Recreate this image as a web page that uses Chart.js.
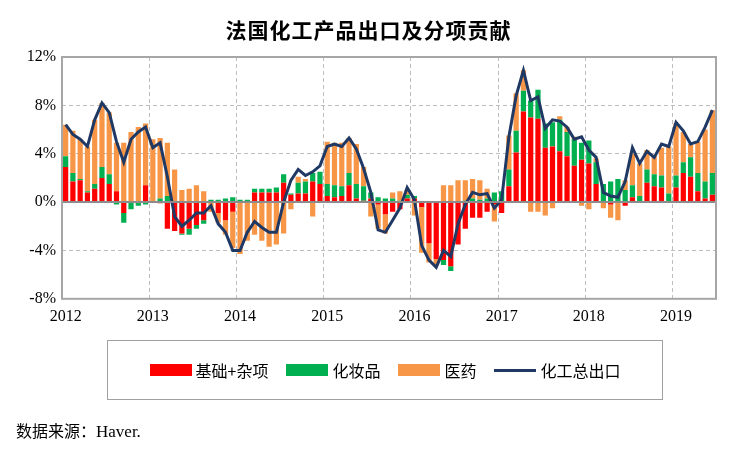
<html lang="zh">
<head>
<meta charset="UTF-8">
<script src="https://cdn.jsdelivr.net/npm/chart.js"></script>
<style>
  body { margin: 0; background: #fff; }
  #wrap { position: relative; width: 737px; height: 449px; }
  #title { position: absolute; top: 14px; left: 0; width: 737px; text-align: center;
    font: bold 21px "Noto Sans CJK SC"; color: #000; letter-spacing: 1px; }
  #legend { position: absolute; left: 107px; top: 340px; width: 556px; height: 60px;
    border: 1px solid #a0a0a0; box-sizing: border-box; display: flex; align-items: center;
    justify-content: center; font: 16px "Noto Sans CJK SC"; color: #000; }
  .item { display: flex; align-items: center; margin: 0 9px; }
  .sw { width: 42px; height: 12px; margin-right: 4px; }
  .ln { width: 42px; height: 3px; background: #1F3864; margin-right: 4px; }
  #note { position: absolute; left: 16px; top: 418px; font: 16px "Noto Sans CJK SC"; color: #000; }
  #note span { font-family: "Liberation Serif"; font-size: 17px; }
  canvas { position: absolute; left: 0; top: 0; }
</style>
</head>
<body>
<div id="wrap">
  <canvas id="c" width="737" height="449"></canvas>
  <div id="title">法国化工产品出口及分项贡献</div>
  <div id="legend">
    <div class="item"><div class="sw" style="background:#FF0000"></div>基础+杂项</div>
    <div class="item"><div class="sw" style="background:#00B050"></div>化妆品</div>
    <div class="item"><div class="sw" style="background:#F79646"></div>医药</div>
    <div class="item"><div class="ln"></div>化工总出口</div>
  </div>
  <div id="note">数据来源：<span>Haver.</span></div>
</div>
<script>
// monthly, Jan 2012 - Jun 2019 (% yoy contribution)
var basic = [2.9,1.7,1.8,0.8,1.1,2.0,1.5,0.9,-0.9,0,0,1.4,
  0,-0.1,-2.2,-2.4,-2.6,-2.2,-1.9,-1.5,0,-0.9,-1.5,-0.8,
  0,0,0.8,0.8,0.8,0.8,1.6,0.6,0.7,0.7,1.7,1.5,
  0.5,0.4,0.5,1.4,0.3,0.1,0.3,-0.2,-1.0,-0.8,-0.6,0.3,
  0.3,-0.4,-3.4,-4.7,-4.8,-5.3,-3.5,-2.2,-1.3,-1.3,-0.8,-0.2,
  -0.9,1.3,4.1,7.5,7.0,6.9,4.5,4.6,4.2,3.8,3.0,3.5,
  3.2,1.5,0,-0.2,0,-0.3,0.4,0,1.6,1.3,1.2,0,
  1.2,2.4,2.1,0.9,0.3,0.6];
var cosmetics = [0.9,0.7,0.1,0.1,0.4,0.9,0.8,-0.2,-0.8,-0.6,-0.3,-0.2,
  0,0.3,0.5,0,-0.1,-0.5,-0.3,-0.3,0.2,0.2,0.3,0.4,
  0.2,0.2,0.3,0.3,0.3,0.4,0.7,0.1,0.9,1.0,0.7,1.0,
  1.0,1.0,0.8,1.0,1.2,1.2,0.5,0.4,0.3,0.3,0.1,0.3,
  0.2,0,0,0,-0.4,-0.4,0,0.1,0.3,0.2,0.3,0.8,
  0.9,1.4,1.8,1.7,1.4,2.4,2.0,2.0,2.6,2.0,2.2,1.4,
  1.9,1.8,1.5,1.7,1.9,1.0,1.0,0.5,1.1,1.0,1.0,0.7,
  1.0,0.9,1.6,1.5,1.4,1.8];
var pharma = [2.6,3.5,3.3,3.7,5.3,5.3,5.1,4.0,4.9,5.8,6.2,5.1,
  5.2,5.0,4.4,2.7,1.0,1.1,1.4,0.9,-0.8,-0.8,-1.2,-3.0,
  -4.3,-3.2,-2.7,-3.2,-3.7,-3.5,-2.6,-0.6,0.5,0.2,-1.2,0,
  3.5,3.5,3.6,2.9,3.3,1.6,-1.2,-2.0,-1.6,0.5,0.8,0.4,
  -1.1,-3.8,-1.6,-0.5,1.4,1.4,1.8,1.7,1.6,1.6,0.8,-1.4,
  0,2.8,3.1,1.7,-0.8,-0.8,-1.1,-0.5,0.3,0.4,0.2,-0.3,
  -0.6,0.3,-0.5,-1.1,-1.5,0.8,2.6,2.7,1.6,1.5,2.3,3.9,
  4.3,2.5,1.1,2.6,4.3,5.2];
var total = [6.4,5.6,5.2,4.6,6.8,8.2,7.4,5.0,3.3,5.2,5.8,6.2,
  4.5,4.9,2.1,-1.2,-2.0,-1.5,-0.9,-0.9,-0.3,-1.8,-2.5,-4.0,
  -4.0,-2.5,-1.6,-2.1,-2.5,-2.5,0,1.8,2.7,2.2,2.5,3.0,
  4.6,4.8,4.6,5.3,4.4,2.8,0.8,-2.3,-2.5,-1.5,-0.5,1.2,
  0.2,-3.6,-4.8,-5.4,-4.0,-4.5,-1.8,-0.2,0.8,0.6,0.7,-0.5,
  0.2,5.4,8.8,10.9,8.4,8.7,6.1,6.8,6.7,6.2,5.2,5.4,
  4.3,3.7,0.8,0.5,0.4,1.7,4.5,3.2,4.2,3.7,4.8,4.6,
  6.6,5.9,4.8,5.0,6.2,7.6];
var months = [];
for (var y = 2012; y <= 2019; y++) for (var m = 1; m <= 12; m++) months.push(y + '-' + m);
months = months.slice(0, total.length);
var yTicks = [-8, -4, 0, 4, 8, 12];

var frame = {
  id: 'frame',
  afterDatasetsDraw: function (chart) {
    var a = chart.chartArea, ctx = chart.ctx, y0 = chart.scales.y.getPixelForValue(0);
    ctx.save();
    ctx.strokeStyle = '#8c8c8c'; ctx.lineWidth = 2;
    ctx.beginPath(); ctx.moveTo(a.left, y0); ctx.lineTo(a.right, y0); ctx.stroke();
    ctx.strokeStyle = '#a6a6a6'; ctx.lineWidth = 2;
    ctx.strokeRect(a.left, a.top, a.right - a.left, a.bottom - a.top);
    ctx.restore();
  }
};

var bar = function (label, data, color) {
  return { type: 'bar', label: label, data: data, backgroundColor: color, stack: 'a', order: 2,
    barPercentage: 0.72, categoryPercentage: 1 };
};

new Chart(document.getElementById('c'), {
  data: {
    labels: months,
    datasets: [
      { type: 'line', label: '化工总出口', data: total, borderColor: '#1F3864', borderWidth: 3,
        pointRadius: 0, tension: 0, stack: 'line', order: 0 },
      bar('基础+杂项', basic, '#FF0000'),
      bar('化妆品', cosmetics, '#00B050'),
      bar('医药', pharma, '#F79646')
    ]
  },
  options: {
    responsive: false, animation: false,
    layout: { padding: { top: 57, right: 21, bottom: 115, left: 0 } },
    plugins: { legend: { display: false }, tooltip: { enabled: false } },
    scales: {
      x: {
        stacked: true,
        grid: { offset: true, drawTicks: false,
          color: function (c) { return c.index % 12 === 0 && c.index > 0 ? '#bdbdbd' : 'rgba(0,0,0,0)'; } },
        border: { display: false, dash: [4, 3] },
        ticks: { autoSkip: false, maxRotation: 0, padding: 8, color: '#000',
          font: { family: 'Liberation Serif', size: 16 },
          callback: function (v, i) { return i % 12 === 0 ? months[i].split('-')[0] : ''; } }
      },
      y: {
        stacked: true, min: -8, max: 12,
        afterFit: function (s) { s.width = 62; },
        afterBuildTicks: function (s) { s.ticks = yTicks.map(function (v) { return { value: v }; }); },
        grid: { color: '#bdbdbd', drawTicks: false },
        border: { display: false, dash: [4, 3] },
        ticks: { padding: 6, color: '#000', font: { family: 'Liberation Serif', size: 16 },
          callback: function (v) { return v + '%'; } }
      }
    }
  },
  plugins: [frame]
});
</script>
</body>
</html>
